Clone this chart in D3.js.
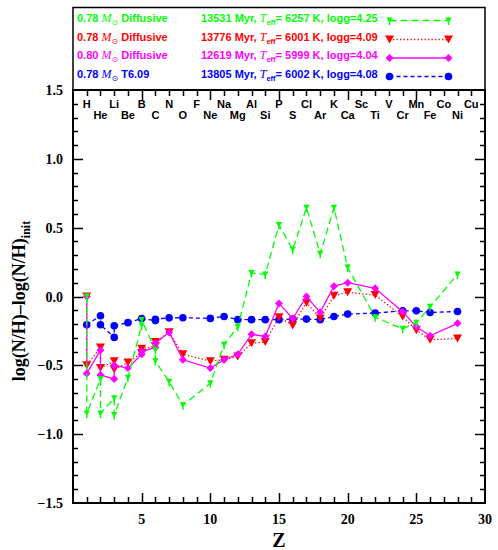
<!DOCTYPE html>
<html><head><meta charset="utf-8">
<script src="https://cdn.jsdelivr.net/npm/d3@7/dist/d3.min.js"></script>
<style>
html,body{margin:0;padding:0;background:#fff;}
svg{display:block;}
</style></head>
<body>
<svg id="chart" width="498" height="550"></svg>
<script>
// ---------- data ----------
const elements = ["H","He","Li","Be","B","C","N","O","F","Ne","Na","Mg","Al","Si","P","S","Cl","Ar","K","Ca","Sc","Ti","V","Cr","Mn","Fe","Co","Ni","Cu"];
const xTicks = [5,10,15,20,25,30];
const yTicks = [-1.5,-1.0,-0.5,0.0,0.5,1.0,1.5];

const greenZ   = [1,1,2,2,3,3,4,5,5,6,6,7,8,10,11,12,13,14,15,16,17,18,19,20,22,24,25,26,28];
const greenVal = [0,-0.85,-0.6,-0.85,-0.74,-0.86,-0.59,-0.21,-0.17,-0.39,-0.47,-0.62,-0.79,-0.63,-0.35,-0.22,0.17,0.16,0.52,0.34,0.645,0.31,0.645,0.21,-0.15,-0.235,-0.19,-0.075,0.16];

const redZ   = [1,1,2,2,3,3,4,5,5,6,6,7,8,10,11,12,13,14,15,16,17,18,19,20,22,24,25,26,28];
const redVal = [0,-0.5,-0.37,-0.52,-0.47,-0.53,-0.48,-0.41,-0.38,-0.36,-0.33,-0.26,-0.42,-0.47,-0.46,-0.435,-0.34,-0.33,-0.15,-0.21,-0.045,-0.16,0.005,0.03,0.01,-0.145,-0.245,-0.315,-0.305];

const magZ   = [1,1,2,2,3,3,4,5,5,6,6,7,8,10,11,12,13,14,15,16,17,18,19,20,22,24,25,26,28];
const magVal = [0,-0.56,-0.39,-0.57,-0.6,-0.5,-0.52,-0.42,-0.40,-0.37,-0.34,-0.26,-0.46,-0.52,-0.46,-0.42,-0.275,-0.29,-0.05,-0.16,0.0,-0.115,0.075,0.1,0.06,-0.11,-0.22,-0.285,-0.195];

const blueZ   = [1,2,2,3,3,4,5,6,6,7,8,10,11,12,13,14,15,16,17,18,19,20,22,24,25,26,28];
const blueVal = [-0.205,-0.14,-0.205,-0.297,-0.212,-0.19,-0.16,-0.175,-0.165,-0.155,-0.154,-0.159,-0.145,-0.168,-0.168,-0.168,-0.168,-0.164,-0.164,-0.168,-0.145,-0.128,-0.12,-0.104,-0.104,-0.116,-0.109];

const legendMass  = ["0.78","0.78","0.80","0.78"];
const legendModel = ["Diffusive","Diffusive","Diffusive","T6.09"];
const legendAge   = ["13531","13776","12619","13805"];
const legendTeff  = ["6257","6001","5999","6002"];
const legendLogg  = ["4.25","4.09","4.04","4.08"];

// ---------- styles ----------
const series = [
  {name:"green", z:greenZ, v:greenVal, color:"#00ff00", dash:"7,4", marker:"tri_small"},
  {name:"red", z:redZ, v:redVal, color:"#ff0000", dash:"1.3,2.2", marker:"tri"},
  {name:"mag", z:magZ, v:magVal, color:"#ff00ff", dash:null, marker:"diamond"},
  {name:"blue", z:blueZ, v:blueVal, color:"#0000ff", dash:"4,3", marker:"circle"}
];
const drawOrder = [3,1,2,0];

const svg = d3.select("#chart");
const L=73, R=485, T=90, B=503, LT=7.5;
const x = d3.scaleLinear().domain([0,30]).range([L,R]);
const y = d3.scaleLinear().domain([-1.5,1.5]).range([B,T]);

const serif = "'Liberation Serif','Times New Roman',serif";
const sans = "'Liberation Sans',Arial,Helvetica,sans-serif";

// frame
svg.append("rect").attr("x",L).attr("y",T).attr("width",R-L).attr("height",B-T)
  .attr("fill","none").attr("stroke","#000").attr("stroke-width",2);
svg.append("rect").attr("x",L).attr("y",LT).attr("width",R-L).attr("height",T-LT)
  .attr("fill","none").attr("stroke","#000").attr("stroke-width",1.5);

// tick labels
svg.append("g").selectAll("text").data(xTicks).join("text")
  .attr("x",d=>x(d)).attr("y",B+21).attr("text-anchor","middle")
  .attr("font-family",serif).attr("font-weight","bold").attr("font-size",14).text(d=>d);
svg.append("g").selectAll("text").data(yTicks).join("text")
  .attr("x",L-10).attr("y",d=>y(d)+5).attr("text-anchor","end")
  .attr("font-family",serif).attr("font-weight","bold").attr("font-size",14)
  .text(d=>(d<0?"\u2212":"")+Math.abs(d).toFixed(1));

// element labels
svg.append("g").selectAll("text").data(elements).join("text")
  .attr("x",(d,i)=>x(i+1))
  .attr("y",(d,i)=> (i%2===0)?108:118.5)
  .attr("text-anchor","middle")
  .attr("font-family",sans).attr("font-weight","bold").attr("font-size",11)
  .attr("fill","#000").text(d=>d);

// axis labels
svg.append("text").attr("x",x(15)).attr("y",547).attr("text-anchor","middle")
  .attr("font-family",serif).attr("font-weight","bold").attr("font-size",20).text("Z");
const yl = svg.append("text").attr("transform","translate(25,301) rotate(-90)")
  .attr("text-anchor","middle").attr("font-family",serif).attr("font-weight","bold").attr("font-size",18);
yl.append("tspan").text("log(N/H)\u2013log(N/H)");
yl.append("tspan").attr("font-size",12).attr("dy",5).text("init");

// markers
function marker(g, type, color, cx, cy){
  if(type==="circle"){
    g.append("circle").attr("cx",cx).attr("cy",cy).attr("r",3.8).attr("fill",color);
  } else if(type==="tri"){
    g.append("path").attr("d",`M${cx-4.5},${cy-4} L${cx+4.5},${cy-4} L${cx},${cy+4} Z`).attr("fill",color);
  } else if(type==="tri_small"){
    g.append("path").attr("d",`M${cx-3.2},${cy-3} L${cx+3.2},${cy-3} L${cx},${cy+2.5} Z`).attr("fill",color);
    g.append("line").attr("x1",cx).attr("x2",cx).attr("y1",cy-3).attr("y2",cy+4.5).attr("stroke",color).attr("stroke-width",1.5);
  } else if(type==="diamond"){
    g.append("path").attr("d",`M${cx},${cy-4} L${cx+4},${cy} L${cx},${cy+4} L${cx-4},${cy} Z`).attr("fill",color);
  }
}

const line = d3.line().x(d=>x(d[0])).y(d=>y(d[1]));
drawOrder.forEach(i=>{
  const s = series[i];
  const pts = s.z.map((z,k)=>[z,s.v[k]]);
  const g = svg.append("g");
  const p = g.append("path").attr("d",line(pts)).attr("fill","none")
    .attr("stroke",s.color).attr("stroke-width",1.3);
  if(s.dash) p.attr("stroke-dasharray",s.dash);
  pts.forEach(d=>marker(g,s.marker,s.color,x(d[0]),y(d[1])));
});

// legend
const rowY = [20.5,39.5,58,76.5];
series.forEach((s,i)=>{
  const g = svg.append("g");
  const t1 = g.append("text").attr("x",77).attr("y",rowY[i]+1)
    .attr("font-family",sans).attr("font-weight","bold").attr("font-size",11).attr("fill",s.color);
  t1.append("tspan").text(legendMass[i]+" ");
  t1.append("tspan").attr("font-family",serif).attr("font-style","italic").attr("font-weight","normal").attr("font-size",12).text("M");
  t1.append("tspan").attr("font-family","'DejaVu Sans',sans-serif").attr("font-weight","normal").attr("font-size",8).attr("dy",3).text("\u2299");
  t1.append("tspan").attr("dy",-3).text(" "+legendModel[i]);

  const t2 = g.append("text").attr("x",201).attr("y",rowY[i]+1)
    .attr("font-family",sans).attr("font-weight","bold").attr("font-size",11).attr("fill",s.color);
  t2.append("tspan").text(legendAge[i]+" Myr,  ");
  t2.append("tspan").attr("font-family",serif).attr("font-style","italic").attr("font-weight","normal").attr("font-size",12).text("T");
  t2.append("tspan").attr("font-size",7.5).attr("dy",3).text("eff");
  t2.append("tspan").attr("dy",-3).text("= "+legendTeff[i]+" K, logg="+legendLogg[i]);

  const x1=389.5, x2=448.5;
  const ln = g.append("line").attr("x1",x1).attr("x2",x2).attr("y1",rowY[i]).attr("y2",rowY[i])
    .attr("stroke",s.color).attr("stroke-width",1.3);
  if(s.dash) ln.attr("stroke-dasharray",s.dash);
  marker(g,s.marker,s.color,x1,rowY[i]);
  marker(g,s.marker,s.color,x2,rowY[i]);
});

// ---------- ticks (inward, all four sides), drawn last ----------
const xMinor = d3.range(1,30);
const yMinor = d3.range(-14,15).map(d=>d/10);
const isMajX = d=>d%5===0;
const isMajY = d=>Math.abs(d*2-Math.round(d*2))<1e-6;
const tickPath = [];
xMinor.forEach(d=>{
  const xx = Math.round(x(d))+0.5, len = isMajX(d)?10:6;
  tickPath.push(`M${xx},${B}V${B-len}`);
  tickPath.push(`M${xx},${T}V${T+len}`);
});
yMinor.forEach(d=>{
  const yy = Math.round(y(d))+0.5, len = isMajY(d)?10:5;
  tickPath.push(`M${L},${yy}H${L+len}`);
  tickPath.push(`M${R},${yy}H${R-len}`);
});
svg.append("path").attr("d",tickPath.join(""))
  .attr("fill","none").attr("stroke","#000").attr("stroke-width",1.5);
</script>
</body></html>
